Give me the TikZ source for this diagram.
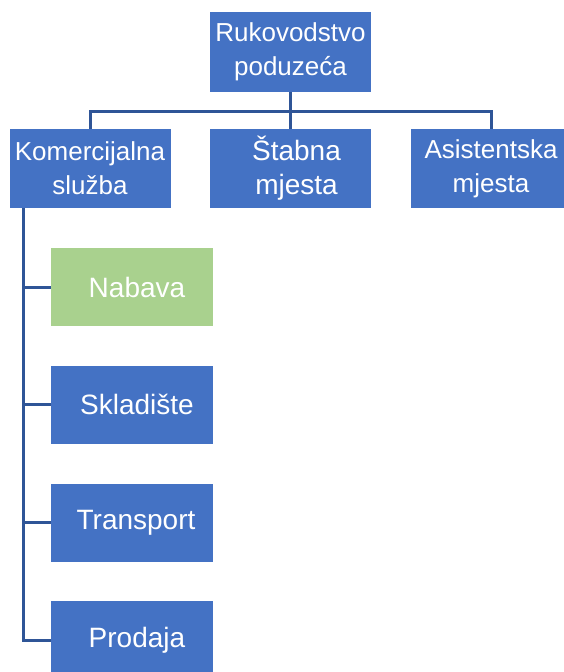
\documentclass[tikz,border=0pt]{standalone}
\usepackage{fontspec}
\setmainfont{Liberation Sans}
\usetikzlibrary{positioning,calc}
\definecolor{boxblue}{HTML}{4472C4}
\definecolor{boxgreen}{HTML}{A9D18E}
\definecolor{linkblue}{HTML}{2F5597}

\begin{document}
\begin{tikzpicture}[
    x=1pt, y=-1pt,
    orgbox/.style={
        rectangle,
        fill=boxblue,
        text=white,
        minimum width=161pt,
        minimum height=80pt,
        inner sep=0pt,
        align=center,
        font=\fontsize{26}{34}\selectfont
    },
    subbox/.style={
        orgbox,
        minimum width=162pt,
        minimum height=78pt,
        font=\fontsize{28}{34}\selectfont
    },
    link/.style={draw=linkblue, line width=3pt}
]
\useasboundingbox (0,0) rectangle (563,672);

% ---------------- Top ----------------
\node[orgbox] (top) at (290.5,52) {Rukovodstvo\\poduzeća};

% ---------------- Second level ----------------
\node[orgbox, minimum height=79pt] (kom) at (90,168.5) {Komercijalna\\služba};
\node[orgbox, minimum height=79pt, font=\fontsize{28}{34}\selectfont]
    (stab) at (290.5,168.5) {\hspace*{12pt}Štabna\\\hspace*{12pt}mjesta};
\node[orgbox, minimum height=79pt] (asist) at (491,168.5) {Asistentska\\mjesta};

\coordinate (bus) at (290.5,111);
\draw[link] (top.south) -- (bus) -- (stab.north);
\draw[link] (kom.north) |- (bus) -| (asist.north);

% ---------------- Commercial departments ----------------
\node[subbox, fill=boxgreen] (nabava) at (132,287) {\hspace*{10pt}Nabava};
\node[subbox] (skladiste) at (132,404.5) {\hspace*{10pt}Skladište};
\node[subbox] (transport) at (132,522.5) {\hspace*{8pt}Transport};
\node[subbox] (prodaja) at (132,640) {\hspace*{10pt}Prodaja};

\coordinate (trunk) at (23,208);
\draw[link] (trunk) |- (prodaja.west);
\foreach \dept in {nabava,skladiste,transport}
    \draw[link] (trunk |- \dept.west) -- (\dept.west);

\end{tikzpicture}
\end{document}
